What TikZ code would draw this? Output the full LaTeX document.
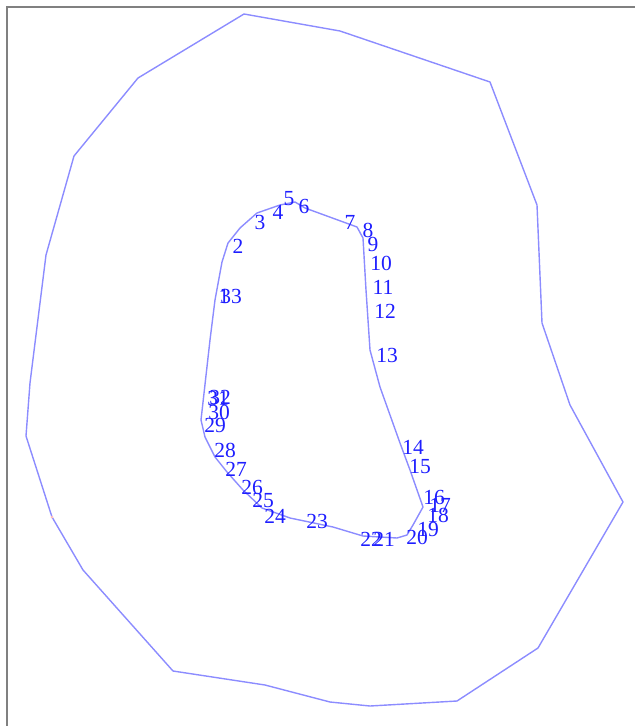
\documentclass[tikz,border=0pt]{standalone}
\usepackage{fontspec}
\setmainfont{Liberation Serif}
\usepackage{tikz}
\usepackage[dvipsnames]{xcolor}
\definecolor{lineblue}{RGB}{140,140,255}
\definecolor{labelblue}{RGB}{30,30,255}

\begin{document}
\begin{tikzpicture}[x=1pt,y=-1pt,
    lbl/.style={text=labelblue,inner sep=0pt,font=\fontsize{21.5}{21.5}\selectfont}]
    \useasboundingbox (0,0) rectangle (635,726);
    \draw[gray,line width=1.5pt] (7,726) -- (7,7) -- (635,7);

    % outer boundary
    \coordinate (O1) at (244,14);
    \coordinate (O2) at (340,31);
    \coordinate (O3) at (490,82);
    \coordinate (O4) at (537,205);
    \coordinate (O5) at (542,323);
    \coordinate (O6) at (570,405);
    \coordinate (O7) at (623,502);
    \coordinate (O8) at (538,648);
    \coordinate (O9) at (457,701);
    \coordinate (O10) at (370,706);
    \coordinate (O11) at (330,702);
    \coordinate (O12) at (265,685);
    \coordinate (O13) at (173,671);
    \coordinate (O14) at (83,570);
    \coordinate (O15) at (52,517);
    \coordinate (O16) at (26,436);
    \coordinate (O17) at (30,383);
    \coordinate (O18) at (46,255);
    \coordinate (O19) at (74,156);
    \coordinate (O20) at (138,78);

    \draw[lineblue,line width=1.4pt,line join=round]
        (O1) -- (O2) -- (O3) -- (O4) -- (O5) -- (O6) -- (O7) -- (O8) -- (O9)
        -- (O10) -- (O11) -- (O12) -- (O13) -- (O14) -- (O15) -- (O16)
        -- (O17) -- (O18) -- (O19) -- (O20) -- cycle;
    \fill[pink] (O15) circle (1.5);

    % inner boundary
    \draw[lineblue,line width=1.4pt,line join=round]
        (201,420) -- (210,340) -- (215,300) -- (222,262) -- (228,243)
        -- (240,228) -- (257,213) -- (280,205) -- (295,202) -- (305,208)
        -- (357,227) -- (363,238) -- (366,290) -- (370,350) -- (380,387)
        -- (400,443) -- (410,470) -- (423,507) -- (413,525) -- (407,535)
        -- (397,538) -- (363,536) -- (333,527) -- (290,518) -- (262,508)
        -- (243,490) -- (227,472) -- (215,457) -- (205,437) -- cycle;

    \node[lbl] (n1) at (224,296) {1};
    \node[lbl] (n2) at (238,246) {2};
    \node[lbl] (n3) at (260,222) {3};
    \node[lbl] (n4) at (278,212) {4};
    \node[lbl] (n5) at (289,199) {5};
    \node[lbl] (n6) at (304,206) {6};
    \node[lbl] (n7) at (350,222) {7};
    \node[lbl] (n8) at (368,230) {8};
    \node[lbl] (n9) at (373,244) {9};
    \node[lbl] (n10) at (381,263) {10};
    \node[lbl] (n11) at (383,287) {11};
    \node[lbl] (n12) at (385,311) {12};
    \node[lbl] (n13) at (387,355) {13};
    \node[lbl] (n14) at (413,447) {14};
    \node[lbl] (n15) at (420,467) {15};
    \node[lbl] (n16) at (434,497) {16};
    \node[lbl] (n17) at (440,505) {17};
    \node[lbl] (n18) at (438,515) {18};
    \node[lbl] (n19) at (428,529) {19};
    \node[lbl] (n20) at (417,537) {20};
    \node[lbl] (n21) at (384,539) {21};
    \node[lbl] (n22) at (371,539) {22};
    \node[lbl] (n23) at (317,521) {23};
    \node[lbl] (n24) at (275,516) {24};
    \node[lbl] (n25) at (263,500) {25};
    \node[lbl] (n26) at (252,487) {26};
    \node[lbl] (n27) at (236,469) {27};
    \node[lbl] (n28) at (225,450) {28};
    \node[lbl] (n29) at (215,425) {29};
    \node[lbl] (n30) at (219,412) {30};
    \node[lbl] (n31) at (218,398) {31};
    \node[lbl] (n32) at (220,397) {32};
    \node[lbl] (n33) at (231,296) {33};
\end{tikzpicture}
\end{document}
